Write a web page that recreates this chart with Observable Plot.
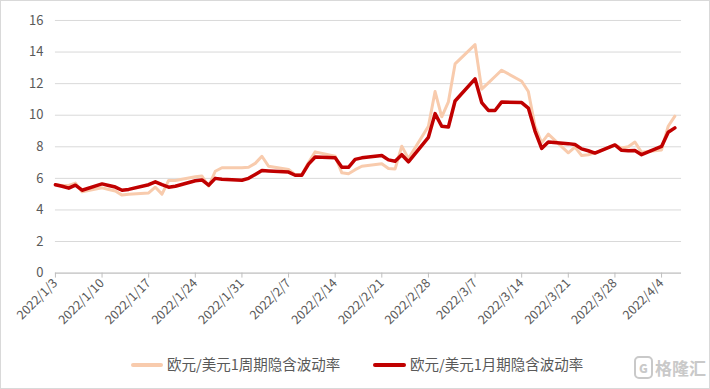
<!DOCTYPE html>
<html>
<head>
<meta charset="utf-8">
<script src="https://cdn.jsdelivr.net/npm/d3@7"></script>
<script src="https://cdn.jsdelivr.net/npm/@observablehq/plot@0.6"></script>
<style>
html,body{margin:0;padding:0;background:#fff;}
#wrap{position:relative;width:710px;height:389px;box-sizing:border-box;border:1px solid #d9d9d9;overflow:hidden;font-family:"Noto Sans CJK SC","Noto Sans",sans-serif;}
#chart{position:absolute;left:-1px;top:-1px;}
.lg{position:absolute;top:352px;font-size:14.5px;color:#595959;line-height:22px;white-space:nowrap;}
.sw{position:absolute;top:362px;height:4px;border-radius:2px;}
#wm{position:absolute;left:633px;top:355px;color:#c9c9c9;font-size:17px;font-weight:bold;line-height:24px;white-space:nowrap;}
#wm b{display:inline-block;width:15px;height:19px;border:2px solid #c9c9c9;border-radius:5px;font-size:12px;line-height:19px;text-align:center;margin-right:2px;vertical-align:top;}
</style>
</head>
<body>
<div id="wrap">
  <div id="chart"></div>
  <div class="sw" style="left:130px;width:32px;background:#F8CBAD;"></div>
  <div class="lg" style="left:166px;">欧元/美元1周期隐含波动率</div>
  <div class="sw" style="left:372px;width:33px;background:#C00000;"></div>
  <div class="lg" style="left:409px;">欧元/美元1月期隐含波动率</div>
  <div id="wm"><b>G</b>格隆汇</div>
</div>
<script>
// Trading days
const dates = [
  "2022-01-03","2022-01-04","2022-01-05","2022-01-06","2022-01-07",
  "2022-01-10","2022-01-11","2022-01-12","2022-01-13","2022-01-14",
  "2022-01-17","2022-01-18","2022-01-19","2022-01-20","2022-01-21",
  "2022-01-24","2022-01-25","2022-01-26","2022-01-27","2022-01-28",
  "2022-01-31","2022-02-01","2022-02-02","2022-02-03","2022-02-04",
  "2022-02-07","2022-02-08","2022-02-09","2022-02-10","2022-02-11",
  "2022-02-14","2022-02-15","2022-02-16","2022-02-17","2022-02-18",
  "2022-02-21","2022-02-22","2022-02-23","2022-02-24","2022-02-25",
  "2022-02-28","2022-03-01","2022-03-02","2022-03-03","2022-03-04",
  "2022-03-07","2022-03-08","2022-03-09","2022-03-10","2022-03-11",
  "2022-03-14","2022-03-15","2022-03-16","2022-03-17","2022-03-18",
  "2022-03-21","2022-03-22","2022-03-23","2022-03-24","2022-03-25",
  "2022-03-28","2022-03-29","2022-03-30","2022-03-31","2022-04-01",
  "2022-04-04","2022-04-05","2022-04-06"
];
// 欧元/美元1周期隐含波动率
const vol1W = [
  5.6,5.55,5.55,5.7,5.15,
  5.4,5.3,5.2,4.94,5.0,
  5.08,5.44,5.0,5.87,5.87,
  6.1,6.15,5.5,6.45,6.67,
  6.67,6.7,6.95,7.4,6.77,
  6.56,6.24,6.24,7.0,7.68,
  7.4,6.35,6.29,6.55,6.77,
  6.92,6.62,6.6,8.04,7.25,
  9.3,11.5,9.9,10.85,13.25,
  14.47,11.65,12.05,12.45,12.85,
  12.15,11.5,9.3,8.25,8.8,
  7.62,7.98,7.45,7.5,7.62,
  8.1,7.93,8.0,8.3,7.65,
  7.8,9.3,9.94
];
// 欧元/美元1月期隐含波动率
const vol1M = [
  5.6,5.5,5.38,5.57,5.25,
  5.65,5.55,5.45,5.25,5.3,
  5.6,5.78,5.6,5.44,5.5,
  5.85,5.9,5.57,6.0,5.95,
  5.88,6.0,6.25,6.5,6.47,
  6.4,6.2,6.2,6.9,7.35,
  7.3,6.7,6.7,7.2,7.3,
  7.45,7.17,7.09,7.5,7.05,
  8.6,10.1,9.3,9.25,10.9,
  12.3,10.8,10.3,10.3,10.84,
  10.8,10.45,9.0,7.9,8.3,
  8.2,8.15,7.87,7.75,7.6,
  8.12,7.78,7.75,7.76,7.5,
  8.02,8.92,9.2
];
const xTickDates = [
  "2022-01-03","2022-01-10","2022-01-17","2022-01-24","2022-01-31",
  "2022-02-07","2022-02-14","2022-02-21","2022-02-28","2022-03-07",
  "2022-03-14","2022-03-21","2022-03-28","2022-04-04"
];
const yTicks = [0,2,4,6,8,10,12,14,16];
const xDomain = ["2022-01-03","2022-04-07"];

const data = dates.map((d,i) => ({date:new Date(d), w:vol1W[i], m:vol1M[i]}));
const fmt = d => `${d.getUTCFullYear()}/${d.getUTCMonth()+1}/${d.getUTCDate()}`;

const chart = Plot.plot({
  width:710, height:340,
  marginLeft:55, marginRight:28, marginTop:20, marginBottom:67,
  style:{fontFamily:'"Noto Sans CJK SC","Noto Sans",sans-serif', fontSize:"12px", color:"#595959", background:"transparent"},
  x:{type:"utc", domain:xDomain.map(d=>new Date(d))},
  y:{domain:[0,16]},
  marks:[
    Plot.gridY(yTicks,{stroke:"#d9d9d9", strokeOpacity:1, strokeWidth:1}),
    Plot.ruleY([0],{stroke:"#bfbfbf", strokeWidth:1}),
    Plot.axisY(yTicks,{tickSize:0, tickPadding:12, fontSize:13, fill:"#595959", label:null}),
    Plot.axisX(xTickDates.map(d=>new Date(d)),{tickSize:5, tickPadding:3, tickRotate:-45, tickFormat:fmt, stroke:"#bfbfbf", fill:"#595959", fontSize:12.5, label:null}),
    Plot.lineY(data,{x:"date", y:"w", stroke:"#F8CBAD", strokeWidth:3, strokeLinejoin:"round"}),
    Plot.lineY(data,{x:"date", y:"m", stroke:"#C00000", strokeWidth:3.5, strokeLinejoin:"round"})
  ]
});
document.getElementById("chart").appendChild(chart);
</script>
</body>
</html>
